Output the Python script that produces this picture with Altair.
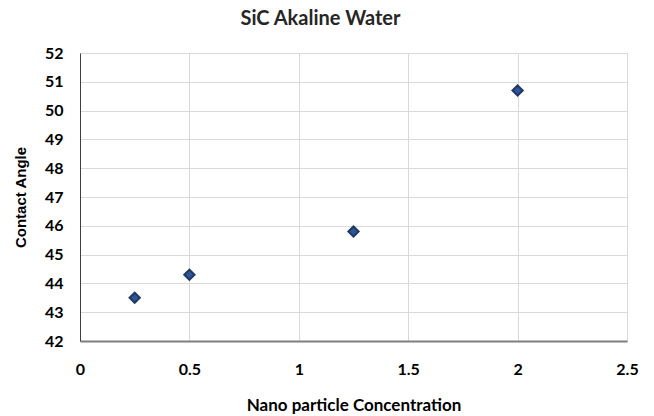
import altair as alt
import pandas as pd

# Contact angle measurements for SiC nanofluid in alkaline water
concentration = [0.25, 0.5, 1.25, 2.0]
contact_angle = [43.5, 44.3, 45.8, 50.7]
x_ticks = [0, 0.5, 1, 1.5, 2, 2.5]
y_ticks = [42, 43, 44, 45, 46, 47, 48, 49, 50, 51, 52]

df = pd.DataFrame({"conc": concentration, "angle": contact_angle})

FONT = "Lato"

points = alt.Chart(df).mark_point(
    shape="diamond", filled=True, size=105,
    fill="#2F5597", stroke="#1F3864", strokeWidth=2, opacity=1
).encode(
    x=alt.X("conc:Q",
            scale=alt.Scale(domain=[0, 2.5], nice=False, zero=False),
            axis=alt.Axis(values=x_ticks, title="Nano particle Concentration",
                          format="~g", labelFlush=False,
                          grid=True, gridColor="#D9D9D9", gridWidth=1,
                          ticks=False, domainColor="#7F7F7F", domainWidth=2,
                          labelPadding=20, labelFontSize=16, labelFontWeight="bold",
                          labelColor="#000000", labelFont=FONT,
                          titleFontSize=17, titleFontWeight="bold", titleFont=FONT,
                          titleColor="#000000", titlePadding=20)),
    y=alt.Y("angle:Q",
            scale=alt.Scale(domain=[42, 52], nice=False, zero=False),
            axis=alt.Axis(values=y_ticks, title="Contact Angle", labelFlush=False,
                          grid=True, gridColor="#D9D9D9", gridWidth=1,
                          ticks=False, domainColor="#404040", domainWidth=1,
                          labelPadding=17, labelFontSize=16, labelFontWeight="bold",
                          labelColor="#000000", labelFont=FONT,
                          titleFontSize=15, titleFontWeight="bold",
                          titleFont="Liberation Sans",
                          titleColor="#000000", titlePadding=16)),
)

chart = points.properties(
    width=547, height=288,
    autosize=alt.AutoSizeParams(type="none"),
    padding={"left": 80, "top": 53, "right": 27, "bottom": 75},
    title=alt.TitleParams("SiC Akaline Water", fontSize=20, fontWeight="bold",
                          font=FONT, color="#262626", anchor="middle",
                          dx=-33, offset=16),
).configure_view(stroke="#000000", strokeWidth=1).configure(background="white")

chart.save("out.html", embed_options={"renderer": "svg", "actions": False})
